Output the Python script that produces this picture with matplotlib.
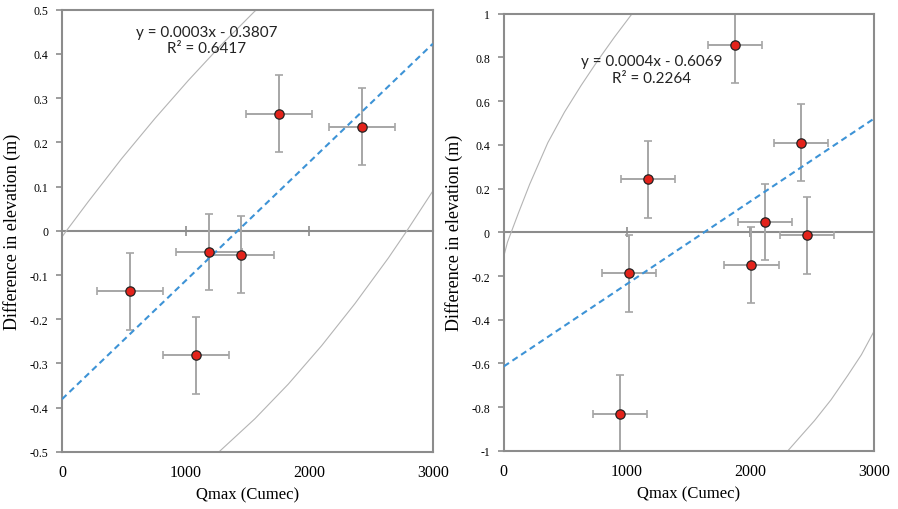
import numpy as np
from matplotlib import pyplot as plt

# left panel
q_a = [550, 1083, 1189, 1447, 1755, 2426]
dz_a = [-0.137, -0.282, -0.048, -0.054, 0.265, 0.235]
qerr_a = [265, 265, 265, 265, 265, 265]
dzerr_a = [0.087, 0.087, 0.087, 0.087, 0.087, 0.087]
band_hi_a_x = [0, 36, 213, 482, 752, 1022, 1291, 1561, 1580]
band_hi_a_y = [-0.014, 0.0, 0.066, 0.163, 0.254, 0.340, 0.421, 0.497, 0.5]
band_lo_a_x = [1270, 1561, 1830, 2100, 2369, 2639, 2790, 3000]
band_lo_a_y = [-0.5, -0.425, -0.347, -0.26, -0.165, -0.062, 0.0, 0.09]

# right panel
q_b = [1873, 2408, 1170, 2116, 2459, 1013, 2008, 940]
dz_b = [0.857, 0.41, 0.242, 0.047, -0.014, -0.188, -0.15, -0.83]
qerr_b = [220, 220, 220, 220, 220, 220, 220, 220]
dzerr_b = [0.175, 0.175, 0.175, 0.175, 0.175, 0.175, 0.175, 0.175]
band_hi_b_x = [0, 30, 60, 120, 210, 357, 492, 627, 762, 897, 1040]
band_hi_b_y = [-0.11, -0.045, 0.0, 0.09, 0.22, 0.41, 0.55, 0.672, 0.786, 0.893, 1.0]
band_lo_b_x = [2303, 2420, 2519, 2654, 2789, 2900, 3000]
band_lo_b_y = [-1.0, -0.925, -0.862, -0.766, -0.655, -0.56, -0.455]

eq_a = "y = 0.0003x - 0.3807\nR² = 0.6417"
eq_b = "y = 0.0004x - 0.6069\nR² = 0.2264"

serif = "Liberation Serif"
grey = "#8c8c8c"


def panel(ax, q, dz, qerr, dzerr, hx, hy, lx, ly, ylim, ystep, eq, eq_xy):
    ax.set_xlim(0, 3000)
    ax.set_ylim(*ylim)
    # confidence curves
    ax.plot(hx, hy, color="#b4b4b4", lw=0.8, zorder=1)
    ax.plot(lx, ly, color="#b4b4b4", lw=0.8, zorder=1)
    # regression line
    k, b = np.polyfit(q, dz, 1)
    xs = np.array([0, 3000])
    ax.plot(xs, k * xs + b, color="#3d93d6", lw=1.5, ls=(0, (3, 2)), zorder=3)
    ax.errorbar(q, dz, xerr=qerr, yerr=dzerr, fmt="none", ecolor="#a6a6a6",
                elinewidth=1.4, capsize=3, capthick=1.2, zorder=2)
    ax.scatter(q, dz, s=45, color="#e3231b", edgecolors="#222222",
               linewidths=0.9, zorder=4)
    ax.text(eq_xy[0], eq_xy[1], eq, ha="center", va="center",
            fontsize=11, family="Lato", color="#222222", linespacing=1.2)

    # zero axis with tick marks
    zx = ax.secondary_xaxis(0, transform=ax.transData)
    zx.set_xticks([1000, 2000])
    zx.tick_params(direction="inout", length=7, width=1.2, color=grey,
                   labelbottom=False)
    zx.spines["bottom"].set_color(grey)
    zx.spines["bottom"].set_linewidth(1.5)

    for s in ax.spines.values():
        s.set_color(grey)
        s.set_linewidth(1.5)
    ax.set_xticks([0, 1000, 2000, 3000])
    ax.tick_params(axis="x", length=0, pad=9, labelsize=11.5)
    yt = np.round(np.arange(ylim[0], ylim[1] + ystep / 2, ystep), 2)
    yt[np.abs(yt) < 1e-9] = 0.0
    ax.set_yticks(yt)
    ax.set_yticklabels(["{:g}".format(abs(v) if v == 0 else v) for v in yt])
    ax.tick_params(axis="y", length=4, width=1.2, color=grey, labelsize=8.5, pad=6)
    for t in ax.get_xticklabels() + ax.get_yticklabels():
        t.set_fontfamily(serif)
    ax.set_xlabel("Qmax (Cumec)", family=serif, fontsize=12, labelpad=4)
    ax.set_ylabel("Difference in elevation (m)", family=serif, fontsize=13,
                  labelpad=6)


fig = plt.figure(figsize=(8.98, 5.10), dpi=100)
ax1 = fig.add_axes([0.069, 0.112, 0.413, 0.867])
ax2 = fig.add_axes([0.561, 0.114, 0.412, 0.857])

panel(ax1, q_a, dz_a, qerr_a, dzerr_a, band_hi_a_x, band_hi_a_y,
      band_lo_a_x, band_lo_a_y, (-0.5, 0.5), 0.1, eq_a, (1170, 0.432))
panel(ax2, q_b, dz_b, qerr_b, dzerr_b, band_hi_b_x, band_hi_b_y,
      band_lo_b_x, band_lo_b_y, (-1, 1), 0.2, eq_b, (1200, 0.745))

fig.savefig("out.png", dpi=100)
